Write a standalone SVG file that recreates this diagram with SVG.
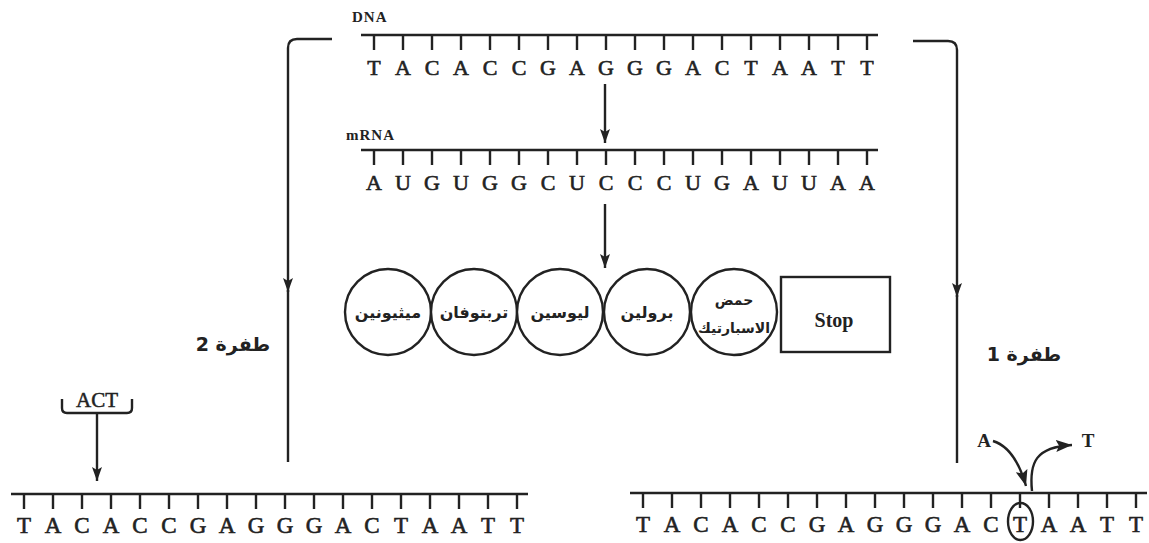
<svg xmlns="http://www.w3.org/2000/svg" width="1149" height="543" viewBox="0 0 1149 543">
  <style>
    .stroke { fill: none; stroke: #222; stroke-width: 2.4; }
    .base { font-family: "Liberation Serif", "Times New Roman", serif; font-size: 22px; fill: #222; stroke: #222; stroke-width: 0.6px; text-anchor: middle; }
    .small { font-family: "Liberation Serif", serif; font-size: 15px; font-weight: bold; fill: #222; letter-spacing: 1px; }
    .label { font-family: "Liberation Serif", serif; font-weight: bold; fill: #222; text-anchor: middle; }
    .ar { font-family: "DejaVu Sans", "Noto Sans", sans-serif; font-weight: bold; font-size: 16px; fill: #222; text-anchor: middle; direction: rtl; unicode-bidi: embed; }
    .amino { fill: #fff; stroke: #222; stroke-width: 2.4; }
  </style>
  <defs>
    <marker id="head" viewBox="0 0 14 10" refX="14" refY="5" markerWidth="14" markerHeight="10" markerUnits="userSpaceOnUse" orient="auto">
      <path d="M0,0 L14,5 L0,10 L3,5 z" fill="#222"/>
    </marker>
    <marker id="bighead" viewBox="0 0 16 12" refX="16" refY="6" markerWidth="16" markerHeight="12" markerUnits="userSpaceOnUse" orient="auto">
      <path d="M0,0 L16,6 L0,12 L3,6 z" fill="#222"/>
    </marker>
    <!-- backbone with 18 ticks, origin at the first tick -->
    <g id="strand">
      <line x1="-13" y1="0" x2="504" y2="0" class="stroke"/>
      <path class="stroke" stroke-width="3" d="M0,0v15 M29,0v15 M58,0v15 M87,0v15 M116,0v15 M145,0v15 M174,0v15 M203,0v15 M232,0v15 M261,0v15 M290,0v15 M319,0v15 M348,0v15 M377,0v15 M406,0v15 M435,0v15 M464,0v15 M493,0v15"/>
    </g>
  </defs>

  <rect width="1149" height="543" fill="#fff"/>

  <!-- template DNA -->
  <g id="dna">
    <text class="small" x="352" y="22">DNA</text>
    <use href="#strand" x="374" y="35"/>
    <text class="base" y="75" x="374 403 432 461 490 519 548 577 606 635 664 693 722 751 780 809 838 867">TACACCGAGGGACTAATT</text>
  </g>

  <!-- messenger RNA -->
  <g id="mrna">
    <text class="small" x="346" y="140">mRNA</text>
    <use href="#strand" x="374" y="150"/>
    <text class="base" y="190" x="374 403 432 461 490 519 548 577 606 635 664 693 722 751 780 809 838 867">AUGUGGCUCCCUGAUUAA</text>
  </g>

  <!-- polypeptide chain -->
  <g id="protein">
    <g id="aa1">
      <circle class="amino" cx="388" cy="312" r="43"/>
      <text class="ar" x="388" y="318">ميثيونين</text>
    </g>
    <g id="aa2">
      <circle class="amino" cx="474" cy="312" r="43"/>
      <text class="ar" x="474" y="318">تربتوفان</text>
    </g>
    <g id="aa3">
      <circle class="amino" cx="560" cy="312" r="43"/>
      <text class="ar" x="560" y="318">ليوسين</text>
    </g>
    <g id="aa4">
      <circle class="amino" cx="647" cy="312" r="43"/>
      <text class="ar" x="647" y="318">برولين</text>
    </g>
    <g id="aa5">
      <circle class="amino" cx="734" cy="312" r="43"/>
      <text class="ar" x="734" y="305" style="font-size:14px">حمض</text>
      <text class="ar" x="734" y="333" style="font-size:14px">الاسبارتيك</text>
    </g>
    <g id="stop">
      <rect class="amino" x="781" y="277" width="109" height="75"/>
      <text class="label" x="834" y="327" style="font-size:20px">Stop</text>
    </g>
  </g>

  <!-- mutation labels -->
  <g id="mut2">
    <text class="ar" x="233" y="351" style="font-size:19px">طفرة 2</text>
  </g>
  <g id="mut1">
    <text class="ar" x="1024" y="361" style="font-size:19px">طفرة 1</text>
  </g>

  <!-- mutated strand 2 (insertion) -->
  <g id="strand2">
    <use href="#strand" x="24" y="494"/>
    <text class="base" style="font-size:23px" y="533" x="24 53 82 111 140 169 198 227 256 285 314 343 372 401 430 459 488 517">TACACCGAGGGACTAATT</text>
    <text class="label" x="97" y="407" style="font-size:21px;font-weight:normal;stroke:#222;stroke-width:0.5px">ACT</text>
    <path class="stroke" d="M62,399 V408 Q62,413 67,413 H127 Q132,413 132,408 V399"/>
  </g>

  <!-- mutated strand 1 (substitution) -->
  <g id="strand1">
    <use href="#strand" x="643" y="493"/>
    <text class="base" style="font-size:23px" y="532" x="643 672 701 730 759 788 817 846 875 904 933 962 991 1020 1049 1078 1107 1136">TACACCGAGGGACTAATT</text>
    <ellipse class="stroke" cx="1020.5" cy="521.5" rx="12.5" ry="18.5" stroke-width="2"/>
    <text class="label" x="984" y="447" style="font-size:19px">A</text>
    <text class="label" x="1088" y="447" style="font-size:19px">T</text>
  </g>

  <!-- connectors -->
  <g id="connectors">
    <line class="stroke" x1="605" y1="84" x2="605" y2="143" marker-end="url(#head)"/>
    <line class="stroke" x1="605" y1="204" x2="605" y2="268" marker-end="url(#head)"/>
    <path class="stroke" d="M332,39 H297 Q288,39 288,48 V292" marker-end="url(#head)"/>
    <line class="stroke" x1="288" y1="290" x2="288" y2="462"/>
    <path class="stroke" d="M913,41 H948 Q957,41 957,50 V297" marker-end="url(#head)"/>
    <line class="stroke" x1="957" y1="295" x2="957" y2="463"/>
    <line class="stroke" x1="97" y1="413" x2="97" y2="481" marker-end="url(#head)"/>
    <path class="stroke" stroke-width="3" d="M993,441 C1006,445 1018,458 1026,486" marker-end="url(#bighead)"/>
    <path class="stroke" stroke-width="3" d="M1032,491 C1029,462 1036,447 1072,445" marker-end="url(#bighead)"/>
  </g>
</svg>
